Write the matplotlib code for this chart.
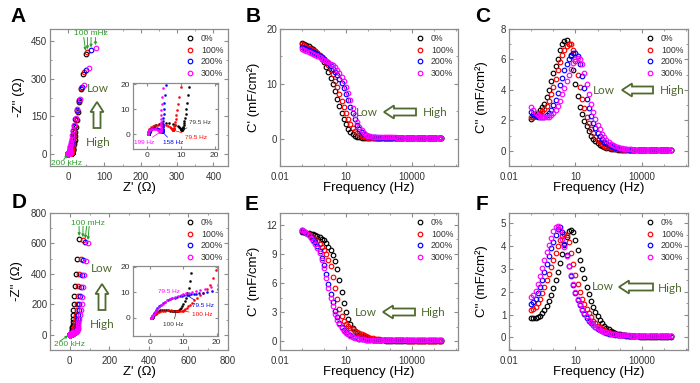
import matplotlib
matplotlib.use("Agg")
import matplotlib.pyplot as plt
from matplotlib.patches import FancyArrow
from matplotlib.ticker import FixedLocator, FixedFormatter, NullFormatter, MultipleLocator

plt.rcParams['font.family'] = ['Liberation Sans', 'DejaVu Sans']

# ---------------- data : 10 points / decade, 0.1 Hz ... 200 kHz ----------------
freq = [
    0.1, 0.126, 0.158, 0.2, 0.251, 0.316, 0.398, 0.501, 0.631, 0.794,
    1.0, 1.26, 1.58, 2.0, 2.51, 3.16, 3.98, 5.01, 6.31, 7.94,
    10.0, 12.6, 15.8, 20.0, 25.1, 31.6, 39.8, 50.1, 63.1, 79.4,
    100.0, 126.0, 158.0, 200.0, 251.0, 316.0, 398.0, 501.0, 631.0, 794.0,
    1000.0, 1260.0, 1580.0, 2000.0, 2510.0, 3160.0, 3980.0, 5010.0, 6310.0, 7940.0,
    1.0e4, 1.26e4, 1.58e4, 2.0e4, 2.51e4, 3.16e4, 3.98e4, 5.01e4, 6.31e4, 7.94e4,
    1.0e5, 1.26e5, 1.58e5, 2.0e5,
]
names = ['0%', '100%', '200%', '300%']
colors = ['black', 'red', 'blue', 'magenta']

# panel B : C' (mF/cm2), top sample
cs_b_0 = [17.5, 17.3, 17.1, 16.9, 16.6, 16.3, 16.0, 15.6, 15.1, 14.5,
          13.9, 13.1, 12.2, 11.1, 9.9, 8.6, 7.3, 6.0, 4.7, 3.6,
          2.6, 1.8, 1.2, 0.8, 0.5, 0.35, 0.25, 0.18, 0.13, 0.1,
          0.09, 0.08, 0.07, 0.07, 0.06, 0.06, 0.05, 0.05, 0.05, 0.05,
          0.05, 0.05, 0.05, 0.05, 0.05, 0.05, 0.05, 0.05, 0.05, 0.05,
          0.05, 0.05, 0.05, 0.05, 0.05, 0.05, 0.05, 0.05, 0.05, 0.05,
          0.05, 0.05, 0.05, 0.05]
cs_b_100 = [17.2, 17.0, 16.8, 16.6, 16.4, 16.2, 15.9, 15.6, 15.3, 14.9,
            14.5, 14.0, 13.4, 12.6, 11.7, 10.6, 9.4, 8.1, 6.9, 5.7,
            4.6, 3.6, 2.7, 2.0, 1.4, 1.0, 0.7, 0.5, 0.35, 0.25,
            0.2, 0.16, 0.13, 0.11, 0.1, 0.09, 0.08, 0.08, 0.07, 0.07,
            0.06, 0.06, 0.06, 0.06, 0.06, 0.06, 0.06, 0.06, 0.06, 0.06,
            0.06, 0.06, 0.06, 0.06, 0.06, 0.06, 0.06, 0.06, 0.06, 0.06,
            0.06, 0.06, 0.06, 0.06]
cs_b_200 = [16.8, 16.6, 16.4, 16.2, 16.0, 15.8, 15.6, 15.4, 15.1, 14.8,
            14.5, 14.2, 13.8, 13.3, 12.7, 12.2, 11.6, 10.9, 10.1, 9.2,
            8.2, 7.0, 5.8, 4.6, 3.5, 2.5, 1.8, 1.25, 0.85, 0.6,
            0.42, 0.32, 0.26, 0.22, 0.19, 0.17, 0.16, 0.15, 0.14, 0.13,
            0.12, 0.12, 0.12, 0.11, 0.11, 0.11, 0.11, 0.1, 0.1, 0.1,
            0.1, 0.1, 0.1, 0.1, 0.1, 0.1, 0.1, 0.1, 0.1, 0.1,
            0.1, 0.1, 0.1, 0.1]
cs_b_300 = [16.3, 16.1, 15.9, 15.8, 15.6, 15.4, 15.2, 15.0, 14.8, 14.6,
            14.4, 14.2, 14.0, 13.7, 13.4, 13.0, 12.5, 11.9, 11.3, 10.5,
            9.5, 8.3, 7.0, 5.6, 4.3, 3.1, 2.2, 1.5, 1.0, 0.7,
            0.5, 0.4, 0.33, 0.3, 0.28, 0.26, 0.25, 0.24, 0.23, 0.22,
            0.22, 0.21, 0.21, 0.2, 0.2, 0.2, 0.2, 0.2, 0.2, 0.2,
            0.2, 0.2, 0.2, 0.2, 0.2, 0.2, 0.2, 0.2, 0.2, 0.2,
            0.2, 0.2, 0.2, 0.2]

# panel C : C'' (mF/cm2), top sample
ci_c_0 = [2.1, 2.2, 2.35, 2.5, 2.65, 2.85, 3.1, 3.5, 4.0, 4.6,
          5.1, 5.6, 6.0, 6.6, 7.0, 7.2, 7.27, 7.0, 6.3, 5.3,
          4.4, 3.6, 2.9, 2.4, 1.95, 1.6, 1.3, 1.0, 0.8, 0.62,
          0.48, 0.38, 0.3, 0.24, 0.19, 0.15, 0.12, 0.1, 0.09, 0.08,
          0.07, 0.07, 0.06, 0.06, 0.05, 0.05, 0.05, 0.04, 0.04, 0.04,
          0.04, 0.04, 0.04, 0.04, 0.04, 0.04, 0.04, 0.04, 0.04, 0.04,
          0.03, 0.03, 0.03, 0.03]
ci_c_100 = [2.25, 2.25, 2.3, 2.35, 2.45, 2.6, 2.75, 2.95, 3.3, 3.7,
            4.2, 4.7, 5.3, 5.8, 6.3, 6.6, 6.9, 7.0, 7.0, 6.6,
            5.9, 5.0, 4.2, 3.4, 2.8, 2.25, 1.8, 1.45, 1.15, 0.9,
            0.7, 0.55, 0.43, 0.34, 0.27, 0.22, 0.18, 0.15, 0.12, 0.1,
            0.09, 0.08, 0.07, 0.06, 0.06, 0.05, 0.05, 0.05, 0.04, 0.04,
            0.04, 0.04, 0.04, 0.04, 0.04, 0.04, 0.04, 0.04, 0.04, 0.04,
            0.04, 0.04, 0.04, 0.04]
ci_c_200 = [2.55, 2.4, 2.3, 2.25, 2.2, 2.2, 2.25, 2.35, 2.5, 2.7,
            3.0, 3.35, 3.8, 4.3, 4.8, 5.3, 5.7, 6.0, 6.25, 6.4,
            6.4, 6.2, 5.7, 4.9, 4.1, 3.4, 2.8, 2.3, 1.85, 1.5,
            1.2, 0.95, 0.75, 0.6, 0.48, 0.38, 0.3, 0.25, 0.2, 0.17,
            0.14, 0.12, 0.1, 0.09, 0.08, 0.07, 0.06, 0.06, 0.05, 0.05,
            0.05, 0.05, 0.05, 0.05, 0.05, 0.05, 0.04, 0.04, 0.04, 0.04,
            0.04, 0.04, 0.04, 0.04]
ci_c_300 = [2.9, 2.65, 2.45, 2.35, 2.25, 2.2, 2.2, 2.2, 2.25, 2.35,
            2.5, 2.7, 2.95, 3.3, 3.7, 4.1, 4.6, 5.0, 5.4, 5.75,
            6.0, 6.1, 6.05, 5.7, 5.1, 4.4, 3.7, 3.1, 2.55, 2.1,
            1.7, 1.4, 1.1, 0.9, 0.72, 0.58, 0.47, 0.38, 0.3, 0.25,
            0.2, 0.17, 0.14, 0.12, 0.1, 0.09, 0.08, 0.07, 0.07, 0.06,
            0.06, 0.06, 0.06, 0.06, 0.06, 0.05, 0.05, 0.05, 0.05, 0.05,
            0.05, 0.05, 0.05, 0.05]

# panel E : C' (mF/cm2), bottom sample
cs_e_0 = [11.2, 11.2, 11.15, 11.1, 11.05, 11.0, 10.9, 10.8, 10.7, 10.55,
          10.4, 10.1, 9.75, 9.35, 8.9, 8.3, 7.4, 6.3, 5.1, 3.95,
          3.0, 2.3, 1.8, 1.4, 1.1, 0.85, 0.65, 0.5, 0.4, 0.3,
          0.25, 0.2, 0.17, 0.14, 0.12, 0.1, 0.09, 0.08, 0.07, 0.07,
          0.06, 0.06, 0.05, 0.05, 0.05, 0.05, 0.05, 0.05, 0.05, 0.05,
          0.05, 0.05, 0.05, 0.05, 0.05, 0.05, 0.05, 0.05, 0.05, 0.05,
          0.05, 0.05, 0.05, 0.05]
cs_e_100 = [11.3, 11.2, 11.1, 11.0, 10.85, 10.7, 10.5, 10.3, 10.05, 9.75,
            9.4, 9.0, 8.4, 7.7, 6.6, 5.5, 4.3, 3.3, 2.6, 2.1,
            1.8, 1.6, 1.4, 1.25, 1.1, 1.0, 0.85, 0.72, 0.6, 0.5,
            0.42, 0.35, 0.3, 0.25, 0.22, 0.19, 0.17, 0.15, 0.13, 0.12,
            0.11, 0.1, 0.1, 0.09, 0.09, 0.08, 0.08, 0.08, 0.07, 0.07,
            0.07, 0.07, 0.07, 0.07, 0.07, 0.07, 0.07, 0.07, 0.07, 0.07,
            0.07, 0.07, 0.07, 0.07]
cs_e_200 = [11.4, 11.25, 11.1, 10.9, 10.7, 10.45, 10.2, 9.8, 9.3, 8.6,
            7.8, 6.9, 5.9, 4.9, 4.0, 3.1, 2.45, 1.9, 1.5, 1.2,
            0.95, 0.75, 0.6, 0.48, 0.39, 0.32, 0.27, 0.23, 0.2, 0.18,
            0.17, 0.16, 0.15, 0.14, 0.14, 0.13, 0.13, 0.12, 0.12, 0.12,
            0.11, 0.11, 0.11, 0.11, 0.11, 0.1, 0.1, 0.1, 0.1, 0.1,
            0.1, 0.1, 0.1, 0.1, 0.1, 0.1, 0.1, 0.1, 0.1, 0.1,
            0.1, 0.1, 0.1, 0.1]
cs_e_300 = [11.5, 11.3, 11.1, 10.9, 10.6, 10.3, 10.0, 9.6, 9.1, 8.4,
            7.5, 6.5, 5.5, 4.5, 3.6, 2.8, 2.2, 1.75, 1.4, 1.1,
            0.9, 0.72, 0.58, 0.47, 0.38, 0.32, 0.27, 0.23, 0.2, 0.18,
            0.17, 0.16, 0.15, 0.15, 0.14, 0.14, 0.13, 0.13, 0.13, 0.12,
            0.12, 0.12, 0.12, 0.12, 0.12, 0.12, 0.12, 0.12, 0.12, 0.12,
            0.12, 0.12, 0.12, 0.12, 0.12, 0.12, 0.12, 0.12, 0.12, 0.12,
            0.12, 0.12, 0.12, 0.12]

# panel F : C'' (mF/cm2), bottom sample
ci_f_0 = [0.85, 0.85, 0.87, 0.9, 0.95, 1.05, 1.2, 1.38, 1.6, 1.85,
          2.15, 2.5, 2.85, 3.25, 3.65, 4.05, 4.4, 4.65, 4.72, 4.6,
          4.25, 3.85, 3.4, 3.0, 2.6, 2.2, 1.9, 1.6, 1.35, 1.12,
          0.93, 0.78, 0.64, 0.52, 0.43, 0.35, 0.29, 0.24, 0.2, 0.17,
          0.14, 0.12, 0.1, 0.09, 0.08, 0.07, 0.06, 0.05, 0.05, 0.04,
          0.04, 0.04, 0.04, 0.04, 0.04, 0.04, 0.03, 0.03, 0.03, 0.03,
          0.03, 0.03, 0.03, 0.03]
ci_f_100 = [1.2, 1.25, 1.35, 1.5, 1.7, 1.95, 2.2, 2.5, 2.8, 3.1,
            3.4, 3.7, 4.0, 4.25, 4.45, 4.55, 4.5, 4.2, 3.7, 3.2,
            2.75, 2.35, 2.0, 1.7, 1.45, 1.23, 1.05, 0.88, 0.74, 0.62,
            0.52, 0.44, 0.37, 0.31, 0.26, 0.22, 0.19, 0.16, 0.14, 0.12,
            0.11, 0.1, 0.09, 0.08, 0.08, 0.07, 0.07, 0.06, 0.06, 0.06,
            0.05, 0.05, 0.05, 0.05, 0.05, 0.05, 0.05, 0.05, 0.05, 0.05,
            0.05, 0.05, 0.05, 0.05]
ci_f_200 = [1.45, 1.55, 1.7, 1.95, 2.2, 2.5, 2.85, 3.2, 3.55, 3.9,
            4.2, 4.5, 4.75, 4.85, 4.6, 4.1, 3.6, 3.15, 2.7, 2.3,
            1.95, 1.65, 1.4, 1.2, 1.02, 0.87, 0.74, 0.63, 0.53, 0.45,
            0.38, 0.32, 0.27, 0.23, 0.2, 0.17, 0.15, 0.13, 0.12, 0.11,
            0.1, 0.09, 0.09, 0.08, 0.08, 0.07, 0.07, 0.07, 0.06, 0.06,
            0.06, 0.06, 0.06, 0.06, 0.05, 0.05, 0.05, 0.05, 0.05, 0.05,
            0.05, 0.05, 0.05, 0.05]
ci_f_300 = [1.75, 1.85, 2.05, 2.35, 2.7, 3.05, 3.4, 3.75, 4.05, 4.35,
            4.65, 4.85, 4.9, 4.7, 4.3, 3.95, 3.55, 3.15, 2.75, 2.35,
            2.0, 1.7, 1.47, 1.25, 1.07, 0.92, 0.78, 0.66, 0.56, 0.47,
            0.4, 0.34, 0.29, 0.25, 0.22, 0.19, 0.17, 0.15, 0.13, 0.12,
            0.11, 0.1, 0.1, 0.09, 0.09, 0.08, 0.08, 0.08, 0.07, 0.07,
            0.07, 0.07, 0.07, 0.06, 0.06, 0.06, 0.06, 0.06, 0.06, 0.06,
            0.06, 0.06, 0.06, 0.06]

# panel A : Nyquist, top sample (ohm)
zre_a_0 = [48.0, 40.9, 35.4, 30.5, 26.6, 23.4, 21.0, 19.4, 18.4, 17.5,
           16.6, 15.6, 14.6, 13.6, 12.6, 12.3, 12.0, 11.7, 11.5, 11.3,
           11.1, 11.0, 10.9, 10.8, 10.7, 10.65, 10.6, 10.55, 10.5, 10.4,
           10.3, 10.25, 10.17, 10.03, 9.83, 9.53, 9.09, 8.47, 7.67, 6.69,
           5.6, 4.51, 3.53, 2.73, 2.11, 1.67, 1.37, 1.17, 1.03, 0.95,
           0.9, 0.86, 0.84, 0.82, 0.81, 0.8, 0.8, 0.8, 0.8, 0.8,
           0.8, 0.8, 0.8, 0.8]
zim_a_0 = [401.0, 321.0, 258.0, 206.0, 166.0, 134.0, 108.0, 86.6, 69.7, 56.1,
           45.1, 36.5, 29.6, 23.7, 19.0, 15.5, 12.5, 10.0, 8.0, 6.4,
           5.2, 4.3, 3.6, 3.0, 2.6, 2.3, 2.0, 1.85, 1.75, 1.7,
           1.7, 1.72, 1.85, 2.09, 2.4, 2.8, 3.25, 3.7, 4.14, 4.44,
           4.51, 4.39, 4.07, 3.62, 3.1, 2.59, 2.13, 1.74, 1.4, 1.12,
           0.89, 0.71, 0.57, 0.45, 0.36, 0.29, 0.23, 0.18, 0.14, 0.11,
           0.09, 0.07, 0.06, 0.05]
zre_a_100 = [53.2, 43.2, 35.9, 29.8, 25.2, 21.7, 18.9, 16.6, 15.2, 14.1,
             13.1, 12.2, 11.5, 10.7, 10.1, 9.6, 9.2, 8.9, 8.7, 8.5,
             8.4, 8.3, 8.2, 8.1, 8.0, 7.95, 7.9, 7.85, 7.8, 7.75,
             7.68, 7.62, 7.52, 7.36, 7.13, 6.79, 6.31, 5.69, 4.94, 4.1,
             3.26, 2.51, 1.89, 1.41, 1.07, 0.84, 0.68, 0.58, 0.52, 0.47,
             0.45, 0.43, 0.42, 0.41, 0.41, 0.4, 0.4, 0.4, 0.4, 0.4,
             0.4, 0.4, 0.4, 0.4]
zim_a_100 = [407.0, 327.0, 262.0, 210.5, 169.0, 135.4, 109.2, 87.8, 70.5, 56.6,
             45.3, 36.3, 29.0, 23.3, 18.8, 15.0, 12.0, 9.6, 7.6, 6.0,
             4.8, 3.8, 3.1, 2.6, 2.2, 1.95, 1.8, 1.7, 1.65, 1.6,
             1.66, 1.7, 1.87, 2.11, 2.43, 2.82, 3.21, 3.58, 3.83, 3.89,
             3.78, 3.51, 3.11, 2.67, 2.23, 1.83, 1.49, 1.2, 0.96, 0.77,
             0.61, 0.49, 0.39, 0.31, 0.25, 0.2, 0.16, 0.12, 0.1, 0.08,
             0.06, 0.05, 0.04, 0.03]
zre_a_200 = [62.9, 48.2, 37.6, 30.0, 23.9, 19.5, 16.2, 13.7, 12.0, 10.7,
             9.4, 8.3, 7.2, 6.3, 5.6, 5.3, 5.15, 5.05, 5.0, 4.95,
             4.9, 4.87, 4.85, 4.83, 4.8, 4.78, 4.76, 4.74, 4.72, 4.7,
             4.68, 4.65, 4.6, 4.5, 4.44, 4.36, 4.23, 4.04, 3.78, 3.43,
             3.01, 2.55, 2.09, 1.67, 1.32, 1.06, 0.87, 0.74, 0.66, 0.6,
             0.56, 0.54, 0.53, 0.52, 0.51, 0.5, 0.5, 0.5, 0.5, 0.5,
             0.5, 0.5, 0.5, 0.5]
zim_a_200 = [414.0, 333.5, 268.3, 215.9, 173.8, 139.7, 112.3, 90.0, 72.8, 58.6,
             47.1, 37.7, 30.2, 24.3, 19.5, 15.6, 12.5, 10.0, 8.0, 6.4,
             5.1, 4.1, 3.3, 2.7, 2.2, 1.8, 1.5, 1.3, 1.15, 1.05,
             0.97, 0.92, 0.9, 0.93, 1.05, 1.21, 1.42, 1.67, 1.88, 2.12,
             2.29, 2.35, 2.29, 2.12, 1.88, 1.62, 1.35, 1.11, 0.9, 0.73,
             0.58, 0.47, 0.37, 0.3, 0.23, 0.19, 0.15, 0.12, 0.09, 0.07,
             0.06, 0.05, 0.04, 0.03]
zre_a_300 = [75.3, 56.2, 42.5, 32.8, 25.7, 20.4, 16.7, 13.6, 11.3, 9.6,
             8.3, 7.3, 6.4, 5.5, 4.7, 4.5, 4.4, 4.35, 4.3, 4.27,
             4.25, 4.23, 4.2, 4.18, 4.16, 4.14, 4.12, 4.1, 4.08, 4.06,
             4.04, 4.02, 4.0, 3.98, 3.86, 3.81, 3.73, 3.62, 3.45, 3.22,
             2.91, 2.54, 2.13, 1.71, 1.34, 1.03, 0.8, 0.63, 0.52, 0.44,
             0.39, 0.36, 0.34, 0.32, 0.31, 0.31, 0.3, 0.3, 0.3, 0.3,
             0.3, 0.3, 0.3, 0.3]
zim_a_300 = [423.0, 341.7, 275.7, 220.8, 177.9, 143.1, 115.2, 92.6, 74.5, 59.8,
             48.0, 38.4, 30.7, 24.6, 18.5, 14.8, 11.9, 9.6, 7.7, 6.2,
             5.0, 4.0, 3.2, 2.6, 2.1, 1.7, 1.4, 1.2, 1.05, 0.95,
             0.88, 0.83, 0.8, 0.78, 0.8, 0.91, 1.06, 1.26, 1.44, 1.68,
             1.9, 2.05, 2.1, 2.05, 1.9, 1.68, 1.44, 1.21, 0.99, 0.81,
             0.65, 0.52, 0.42, 0.33, 0.26, 0.21, 0.17, 0.13, 0.11, 0.08,
             0.07, 0.05, 0.04, 0.03]

# panel D : Nyquist, bottom sample (ohm)
zre_d_0 = [47.7, 38.0, 31.1, 25.8, 21.8, 19.3, 17.8, 16.5, 15.4, 14.4,
           13.9, 13.5, 13.2, 12.9, 12.7, 12.6, 12.4, 12.0, 11.6, 11.2,
           10.8, 10.4, 10.0, 9.6, 9.3, 9.0, 8.7, 8.5, 8.3, 8.1,
           7.9, 7.6, 7.4, 7.1, 6.7, 6.2, 5.6, 4.95, 4.3, 3.7,
           3.15, 2.65, 2.2, 1.85, 1.55, 1.3, 1.15, 1.03, 0.95, 0.9,
           0.86, 0.84, 0.82, 0.81, 0.8, 0.8, 0.8, 0.8, 0.8, 0.8,
           0.8, 0.8, 0.8, 0.8]
zim_d_0 = [629.0, 500.5, 399.1, 318.4, 253.9, 202.2, 161.7, 129.0, 102.9, 82.2,
           65.5, 52.6, 42.3, 33.9, 27.2, 21.8, 17.6, 14.3, 11.7, 9.6,
           7.9, 6.6, 5.5, 4.6, 3.9, 3.4, 3.0, 2.8, 2.65, 2.6,
           2.6, 2.55, 2.55, 2.6, 2.7, 2.85, 3.0, 3.1, 3.15, 3.1,
           2.95, 2.7, 2.4, 2.05, 1.7, 1.38, 1.1, 0.85, 0.66, 0.5,
           0.38, 0.29, 0.22, 0.17, 0.13, 0.1, 0.08, 0.06, 0.05, 0.04,
           0.03, 0.02, 0.01, 0.0]
zre_d_100 = [66.0, 55.5, 48.4, 43.3, 39.8, 37.0, 34.1, 31.5, 29.0, 26.5,
             24.1, 22.6, 21.5, 20.9, 20.5, 20.2, 19.8, 19.0, 18.0, 17.0,
             16.0, 15.0, 14.0, 13.2, 12.5, 11.9, 11.4, 11.0, 10.6, 10.3,
             10.0, 9.6, 9.1, 8.5, 7.8, 7.1, 6.3, 5.5, 4.7, 4.0,
             3.3, 2.7, 2.2, 1.8, 1.5, 1.25, 1.08, 0.96, 0.88, 0.82,
             0.78, 0.75, 0.73, 0.72, 0.71, 0.7, 0.7, 0.7, 0.7, 0.7,
             0.7, 0.7, 0.7, 0.7]
zim_d_100 = [621.0, 497.0, 397.7, 317.3, 254.3, 203.0, 162.7, 129.8, 104.0, 83.2,
             66.8, 53.6, 43.4, 35.4, 28.6, 23.0, 18.6, 15.4, 13.0, 11.3,
             9.9, 8.8, 7.8, 6.9, 6.0, 5.2, 4.5, 3.9, 3.4, 3.05,
             2.8, 2.75, 2.75, 2.8, 2.85, 2.9, 2.95, 2.95, 2.9, 2.8,
             2.6, 2.35, 2.05, 1.72, 1.4, 1.1, 0.85, 0.65, 0.5, 0.38,
             0.29, 0.22, 0.17, 0.13, 0.1, 0.08, 0.06, 0.05, 0.04, 0.03,
             0.02, 0.02, 0.01, 0.0]
zre_d_200 = [77.9, 67.8, 60.4, 56.5, 52.1, 48.6, 45.3, 42.6, 40.3, 39.1,
             38.0, 37.4, 37.1, 36.3, 35.0, 33.5, 31.0, 28.0, 25.0, 22.4,
             20.3, 18.5, 17.0, 15.8, 14.8, 13.9, 13.1, 12.4, 11.7, 11.0,
             10.3, 9.6, 8.9, 8.2, 7.5, 6.8, 6.1, 5.4, 4.7, 4.0,
             3.4, 2.8, 2.3, 1.85, 1.5, 1.2, 1.0, 0.85, 0.75, 0.68,
             0.63, 0.6, 0.58, 0.57, 0.56, 0.55, 0.55, 0.55, 0.55, 0.55,
             0.55, 0.55, 0.55, 0.55]
zim_d_200 = [612.6, 491.9, 394.2, 316.1, 253.4, 203.1, 162.2, 130.5, 105.7, 86.2,
             70.6, 57.3, 46.0, 36.7, 30.4, 25.5, 21.0, 17.5, 15.0, 12.9,
             11.4, 10.6, 10.2, 9.9, 9.7, 9.5, 9.35, 9.2, 9.05, 8.9,
             8.75, 8.6, 8.4, 8.2, 7.95, 7.65, 7.3, 6.9, 6.4, 5.85,
             5.2, 4.5, 3.8, 3.1, 2.45, 1.85, 1.35, 0.95, 0.65, 0.45,
             0.3, 0.2, 0.13, 0.08, 0.05, 0.03, 0.02, 0.02, 0.01, 0.01,
             0.0, 0.0, 0.0, 0.0]
zre_d_300 = [91.8, 79.6, 72.0, 67.2, 63.7, 59.3, 54.4, 50.0, 46.0, 43.4,
             42.4, 41.6, 40.4, 39.5, 38.6, 37.5, 34.5, 31.0, 27.8, 25.0,
             22.5, 20.3, 18.3, 16.6, 15.1, 13.8, 12.7, 11.7, 10.8, 10.0,
             9.2, 8.4, 7.6, 6.8, 6.0, 5.3, 4.6, 3.95, 3.35, 2.8,
             2.3, 1.85, 1.5, 1.2, 0.98, 0.82, 0.7, 0.62, 0.57, 0.54,
             0.52, 0.51, 0.5, 0.5, 0.5, 0.5, 0.5, 0.5, 0.5, 0.5,
             0.5, 0.5, 0.5, 0.5]
zim_d_300 = [603.0, 486.0, 390.1, 311.8, 250.3, 200.3, 159.9, 127.9, 103.3, 83.9,
             68.4, 55.7, 45.4, 37.8, 32.3, 26.9, 22.5, 19.5, 17.2, 15.4,
             14.0, 12.9, 12.1, 11.4, 10.9, 10.5, 10.15, 9.85, 9.55, 9.25,
             8.95, 8.65, 8.3, 7.9, 7.4, 6.9, 6.3, 5.6, 4.9, 4.2,
             3.5, 2.8, 2.2, 1.65, 1.2, 0.85, 0.58, 0.38, 0.25, 0.16,
             0.1, 0.06, 0.04, 0.03, 0.02, 0.01, 0.01, 0.0, 0.0, 0.0,
             0.0, 0.0, 0.0, 0.0]

cs_b = [cs_b_0, cs_b_100, cs_b_200, cs_b_300]
ci_c = [ci_c_0, ci_c_100, ci_c_200, ci_c_300]
cs_e = [cs_e_0, cs_e_100, cs_e_200, cs_e_300]
ci_f = [ci_f_0, ci_f_100, ci_f_200, ci_f_300]
zre_a = [zre_a_0, zre_a_100, zre_a_200, zre_a_300]
zim_a = [zim_a_0, zim_a_100, zim_a_200, zim_a_300]
zre_d = [zre_d_0, zre_d_100, zre_d_200, zre_d_300]
zim_d = [zim_d_0, zim_d_100, zim_d_200, zim_d_300]

# ---------------- figure ----------------
W, H = 700, 383
fig = plt.figure(figsize=(7, 3.83), dpi=100)

GRAY = '#8c8c8c'
TXT = '#333333'
OLIVE = '#4f6a2e'
LIME = '#2ca02c'


def add_ax(x0, y0, x1, y1):
    # pixel box measured from the top-left corner of the picture
    return fig.add_axes([x0 / W, 1 - y1 / H, (x1 - x0) / W, (y1 - y0) / H])


def style(ax, ts=7):
    for sp in ax.spines.values():
        sp.set_color(GRAY)
        sp.set_linewidth(0.9)
    ax.tick_params(which='both', direction='in', top=True, right=True,
                   color=GRAY, labelcolor=TXT, labelsize=ts)
    ax.tick_params(which='major', length=3, width=0.8)
    ax.tick_params(which='minor', length=1.6, width=0.6)
    ax.tick_params(axis='x', pad=4)
    ax.tick_params(axis='y', pad=2)


def circles(ax, xs, ys, col, label=None):
    ax.plot(xs, ys, 'o', ls='none', ms=3.3, mfc='none', mec=col, mew=0.85, label=label)


def legend(ax):
    ax.legend(loc='upper right', frameon=False, fontsize=6.3, labelcolor=TXT,
              handlelength=1.0, handletextpad=0.7, labelspacing=0.32,
              borderaxespad=0.25, borderpad=0.3)


def ftext(x, y, s, **kw):
    fig.text(x / W, 1 - y / H, s, ha='center', va='center', **kw)


def hollow_arrow(xt, yt, xh, yh, shaft=7, head=13, hl=10):
    a = FancyArrow(xt / 100, (H - yt) / 100, (xh - xt) / 100, -(yh - yt) / 100,
                   width=shaft / 100, head_width=head / 100, head_length=hl / 100,
                   length_includes_head=True, fc='white', ec=OLIVE, lw=1.3,
                   transform=fig.dpi_scale_trans)
    fig.add_artist(a)


def freq_panel(ax, series, ylim, yticks, yminor, ylabel):
    for ys, c, n in zip(series, colors, names):
        circles(ax, freq, ys, c, n)
    ax.set_xscale('log')
    ax.set_xlim(0.01, 1.2e6)
    ax.xaxis.set_major_locator(FixedLocator([0.01, 10, 10000]))
    ax.xaxis.set_major_formatter(FixedFormatter(['0.01', '10', '10000']))
    ax.xaxis.set_minor_locator(FixedLocator([0.1, 1, 100, 1000, 1e5, 1e6]))
    ax.xaxis.set_minor_formatter(NullFormatter())
    ax.set_ylim(*ylim)
    ax.set_yticks(yticks)
    ax.yaxis.set_minor_locator(MultipleLocator(yminor))
    style(ax)
    ax.set_ylabel(ylabel, fontsize=9.5)
    ax.yaxis.set_label_coords(-0.115, 0.5)
    ax.set_xlabel('Frequency (Hz)', fontsize=9.5, va='top')
    ax.xaxis.set_label_coords(0.5, -0.12)
    legend(ax)


def nyquist_inset(box, zr_list, zi_list, xlim, ylim):
    ax = add_ax(*box)
    for zr, zi, c in zip(zr_list, zi_list, colors):
        ax.plot(zr, zi, 'o', ls='none', ms=1.5, mfc=c, mec=c, mew=0.3)
    ax.set_xlim(*xlim)
    ax.set_ylim(*ylim)
    ax.set_xticks([0, 10, 20])
    ax.set_yticks([0, 10, 20])
    style(ax, ts=6)
    ax.tick_params(which='major', length=2)
    ax.tick_params(axis='x', pad=2)
    return ax


# ---- A ----
ax_a = add_ax(50, 29, 228, 166)
for zr, zi, c, n in zip(zre_a, zim_a, colors, names):
    circles(ax_a, zr, zi, c, n)
ax_a.set_xlim(-50, 440)
ax_a.set_ylim(-50, 500)
ax_a.set_xticks([0, 100, 200, 300, 400])
ax_a.set_yticks([0, 150, 300, 450])
ax_a.xaxis.set_minor_locator(MultipleLocator(50))
ax_a.yaxis.set_minor_locator(MultipleLocator(75))
style(ax_a)
ax_a.set_ylabel("-Z'' (Ω)", fontsize=9.5)
ax_a.yaxis.set_label_coords(-0.14, 0.5)
ax_a.set_xlabel("Z' (Ω)", fontsize=9.5, va='top')
ax_a.xaxis.set_label_coords(0.5, -0.12)
legend(ax_a)
ax_a.text(62, 481, '100 mHz', color=LIME, fontsize=6, ha='center', va='center')
for k, x0 in enumerate([43, 53, 63, 75]):
    ax_a.annotate('', xy=(zre_a[k][0], zim_a[k][0] + 12), xytext=(x0, 466),
                  arrowprops=dict(arrowstyle='-|>', color=LIME, lw=0.7,
                                  mutation_scale=4, shrinkA=0, shrinkB=0))
ax_a.text(-4, -38, '200 kHz', color=LIME, fontsize=6, ha='center', va='center')
ax_a.annotate('', xy=(-1, -4), xytext=(-12, -24),
              arrowprops=dict(arrowstyle='-|>', color=LIME, lw=0.7,
                              mutation_scale=4, shrinkA=0, shrinkB=0))

ia = nyquist_inset((133, 83, 218, 149), zre_a, zim_a, (-4, 21), (-6, 20.5))
ann = dict(fontsize=4.6, va='center', ha='left')
ia.annotate('79.5 Hz', xy=(zre_a_0[29], zim_a_0[29]), xytext=(12.6, 4.6), color=TXT,
            arrowprops=dict(arrowstyle='-', color=TXT, lw=0.5, shrinkA=0, shrinkB=1), **ann)
ia.annotate('79.5 Hz', xy=(zre_a_100[29], zim_a_100[29]), xytext=(11.3, -1.2), color='red',
            arrowprops=dict(arrowstyle='-', color='red', lw=0.5, shrinkA=0, shrinkB=1), **ann)
ia.annotate('199 Hz', xy=(zre_a_300[33], zim_a_300[33]), xytext=(-3.6, -3.4), color='magenta',
            arrowprops=dict(arrowstyle='-', color='magenta', lw=0.5, shrinkA=0, shrinkB=1), **ann)
ia.annotate('158 Hz', xy=(zre_a_200[32], zim_a_200[32]), xytext=(4.7, -3.4), color='blue',
            arrowprops=dict(arrowstyle='-', color='blue', lw=0.5, shrinkA=0, shrinkB=1), **ann)

# ---- D ----
ax_d = add_ax(50, 213, 228, 350)
for zr, zi, c, n in zip(zre_d, zim_d, colors, names):
    circles(ax_d, zr, zi, c, n)
ax_d.set_xlim(-100, 800)
ax_d.set_ylim(-100, 800)
ax_d.set_xticks([0, 200, 400, 600, 800])
ax_d.set_yticks([0, 200, 400, 600, 800])
ax_d.xaxis.set_minor_locator(MultipleLocator(100))
ax_d.yaxis.set_minor_locator(MultipleLocator(100))
style(ax_d)
ax_d.set_ylabel("-Z'' (Ω)", fontsize=9.5)
ax_d.yaxis.set_label_coords(-0.15, 0.5)
ax_d.set_xlabel("Z' (Ω)", fontsize=9.5, va='top')
ax_d.xaxis.set_label_coords(0.5, -0.12)
legend(ax_d)
ax_d.text(93, 733, '100 mHz', color=LIME, fontsize=6, ha='center', va='center')
for k, x0 in enumerate([47, 67, 85, 98]):
    ax_d.annotate('', xy=(zre_d[k][0], zim_d[k][0] + 20), xytext=(x0, 712),
                  arrowprops=dict(arrowstyle='-|>', color=LIME, lw=0.7,
                                  mutation_scale=4, shrinkA=0, shrinkB=0))
ax_d.text(0, -64, '200 kHz', color=LIME, fontsize=6, ha='center', va='center')
ax_d.annotate('', xy=(-8, -5), xytext=(-50, -42),
              arrowprops=dict(arrowstyle='-|>', color=LIME, lw=0.7,
                              mutation_scale=4, shrinkA=0, shrinkB=0))

idd = nyquist_inset((133, 266, 218, 336), zre_d, zim_d, (-5, 20.4), (-7, 20.2))
idd.annotate('79.5 Hz', xy=(zre_d_300[29], zim_d_300[29]), xytext=(2.4, 10.3), color='magenta',
             arrowprops=dict(arrowstyle='-', color='magenta', lw=0.5, shrinkA=0, shrinkB=1), **ann)
idd.annotate('79.5 Hz', xy=(zre_d_200[29], zim_d_200[29]), xytext=(12.6, 5.0), color='blue',
             arrowprops=dict(arrowstyle='-', color='blue', lw=0.5, shrinkA=0, shrinkB=1), **ann)
idd.annotate('100 Hz', xy=(zre_d_100[30], zim_d_100[30]), xytext=(12.6, 1.2), color='red',
             arrowprops=dict(arrowstyle='-', color='red', lw=0.5, shrinkA=0, shrinkB=1), **ann)
idd.annotate('100 Hz', xy=(zre_d_0[30], zim_d_0[30]), xytext=(4.0, -2.4), color=TXT,
             arrowprops=dict(arrowstyle='-', color=TXT, lw=0.5, shrinkA=0, shrinkB=1), **ann)

# ---- B, C, E, F ----
ax_b = add_ax(280, 29, 458, 166)
freq_panel(ax_b, cs_b, (-5, 20), [0, 10, 20], 5, "C' (mF/cm²)")
ax_c = add_ax(509, 29, 688, 166)
freq_panel(ax_c, ci_c, (-1, 8), [0, 2, 4, 6, 8], 1, "C'' (mF/cm²)")
ax_e = add_ax(280, 213, 458, 350)
freq_panel(ax_e, cs_e, (-0.9, 13.2), [0, 3, 6, 9, 12], 1.5, "C' (mF/cm²)")
ax_f = add_ax(509, 213, 688, 350)
freq_panel(ax_f, ci_f, (-0.55, 5.45), [0, 1, 2, 3, 4, 5], 0.5, "C'' (mF/cm²)")

# ---- Low / High markers ----
lh = dict(color=OLIVE, fontsize=8.5, family=['Lato', 'DejaVu Sans'])
ftext(98, 88, 'Low', **lh)
ftext(98, 143, 'High', **lh)
hollow_arrow(97, 128, 97, 102)
ftext(102, 269, 'Low', **lh)
ftext(102, 324, 'High', **lh)
hollow_arrow(102, 310, 102, 284)
for (xl, xh, y, xt, xtip) in [(367, 435, 112, 416, 384), (604, 672, 90, 653, 622),
                               (366, 433, 312, 415, 383), (603, 670, 287, 653, 619)]:
    ftext(xl, y, 'Low', **lh)
    ftext(xh, y + 1, 'High', **lh)
    hollow_arrow(xt, y, xtip, y)

# ---- panel letters ----
for s, x, y in [('A', 18, 16), ('B', 253, 16), ('C', 483, 16),
                ('D', 19, 203), ('E', 252, 205), ('F', 482, 205)]:
    ftext(x, y, s, fontsize=15, fontweight='bold')

fig.savefig('out.png', dpi=100)
